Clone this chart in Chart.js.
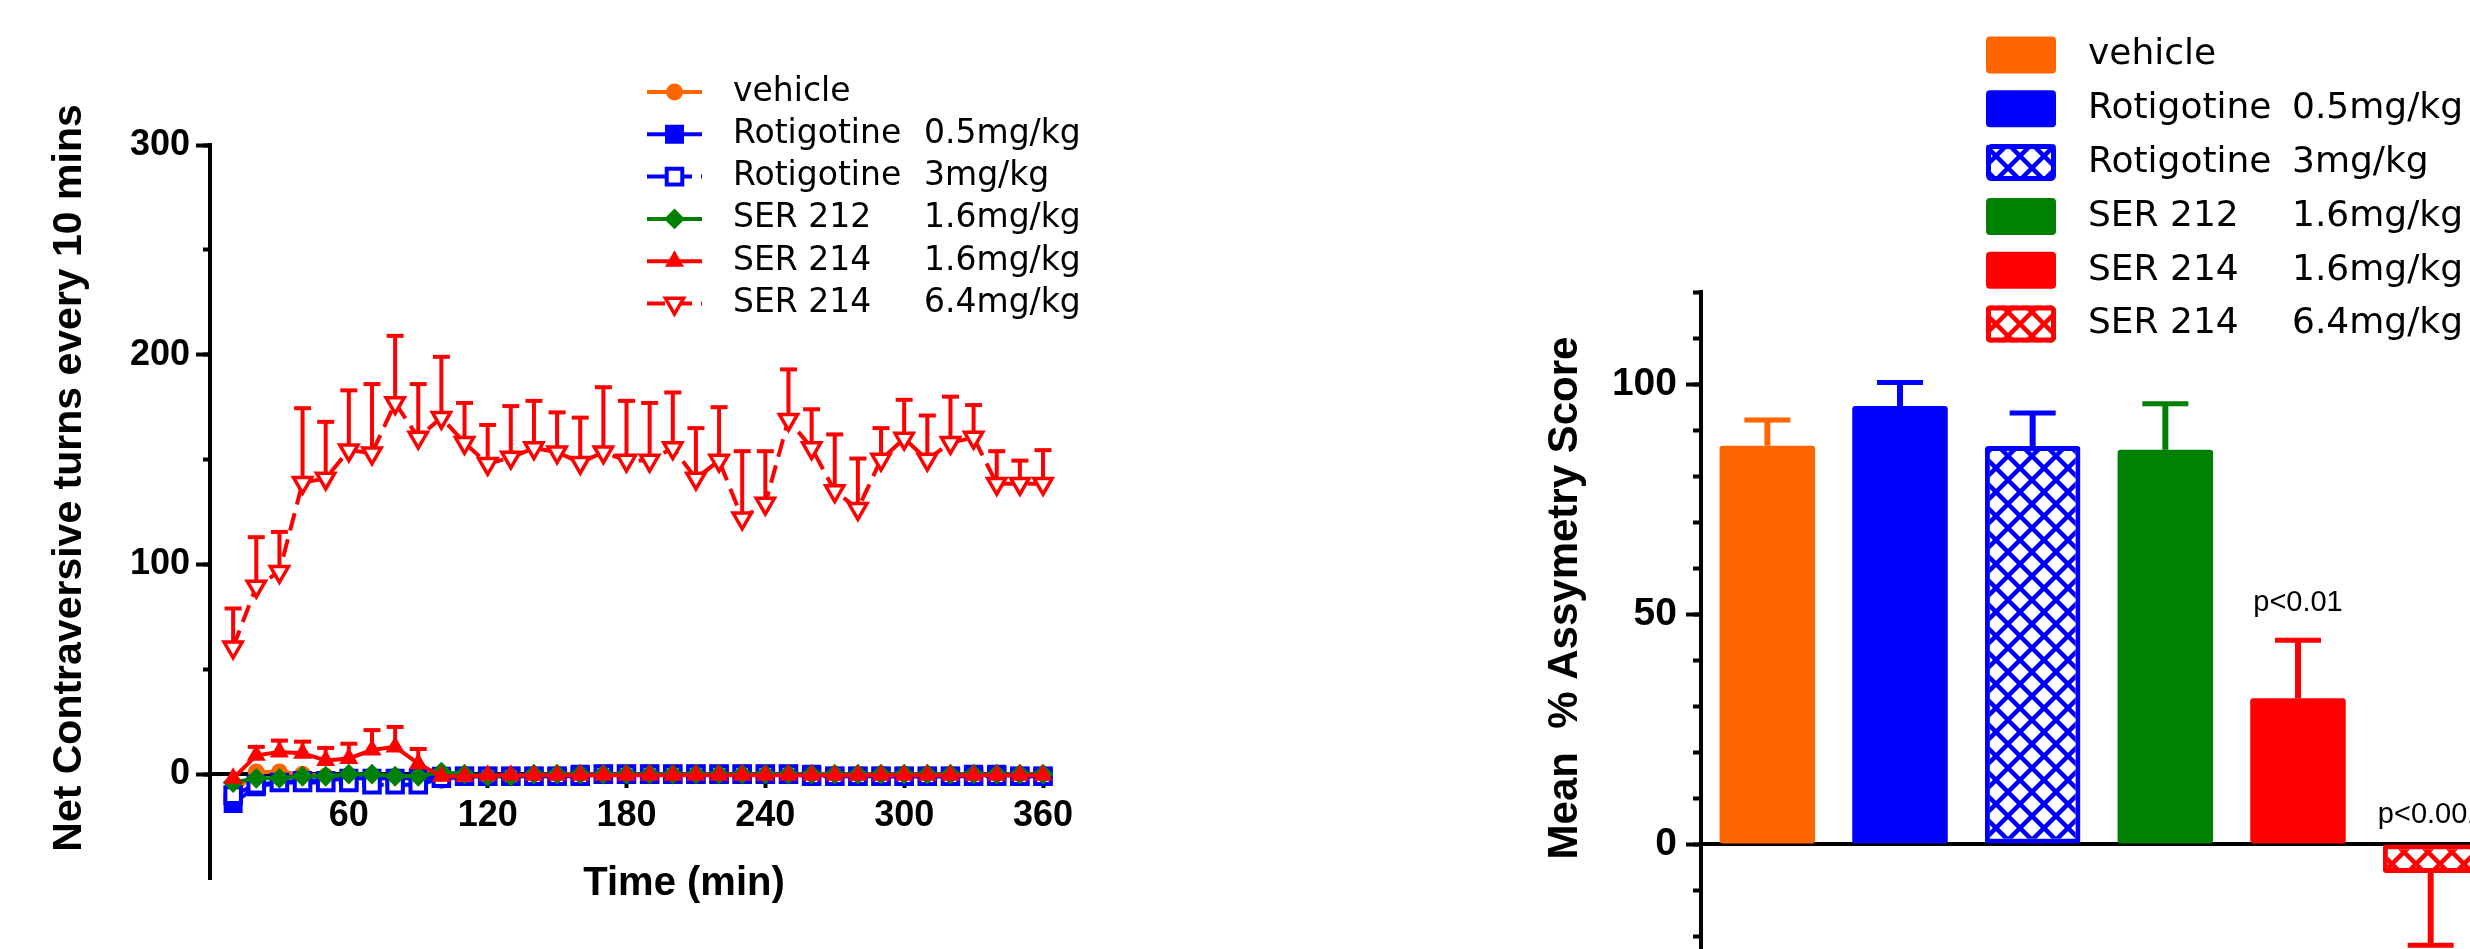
<!DOCTYPE html>
<html><head><meta charset="utf-8">
<script src="https://cdn.jsdelivr.net/npm/chart.js@4.4.1/dist/chart.umd.min.js"></script>
<style>
html,body{margin:0;padding:0;background:#fff;overflow:hidden;width:2470px;height:949px;}
canvas{position:absolute;top:0;}
#left{left:0;}
#right{left:1480px;}
</style></head><body>
<canvas id="left" width="1130" height="949"></canvas>
<canvas id="right" width="1030" height="1080"></canvas>
<script>
// ---------------- data ----------------
const times = [10,20,30,40,50,60,70,80,90,100,110,120,130,140,150,160,170,180,190,200,210,220,230,240,250,260,270,280,290,300,310,320,330,340,350,360];
const timeTicks = [60,120,180,240,300,360];
const turnTicks = [0,100,200,300];
const asymTicks = [0,50,100];

const seriesNames = ['vehicle','Rotigotine','Rotigotine','SER 212','SER 214','SER 214'];
const seriesDoses = ['','0.5mg/kg','3mg/kg','1.6mg/kg','1.6mg/kg','6.4mg/kg'];

const vehicleTurns   = [-9,1,1,0,-1,-1,-3,-1,-1,-3,-1,-1,-1,-1,0,0,0,0,0,0,0,0,0,0,0,0,0,0,0,0,0,0,0,0,-1,-1];
const rot05Turns     = [-14,-6,-4,-3,-3,-2,-2,-2,-2,-1,-1,-1,-1,-1,-1,0,0,0,0,0,0,0,0,0,0,0,-1,-1,-1,-1,-1,-1,0,0,-1,-1];
const rot3Turns      = [-10,-5,-4,-4,-4,-4,-5,-5,-5,-2,-1,-1,-1,-1,-1,-1,0,0,0,0,0,0,0,0,0,-1,-1,-1,-1,-1,-1,-1,-1,-1,-1,-1];
const ser212Turns    = [-4,-2,-2,-1,-1,0,0,-1,-1,1,0,-1,-1,0,0,0,0,0,0,0,0,0,0,0,0,0,0,0,0,0,0,0,0,0,0,0];
const ser214LowTurns = [-2,9,10.5,10,6.5,7.5,11.5,13,5,-1,-1,-0.5,-0.5,-0.5,-0.5,-0.5,-0.5,-0.5,-0.5,-0.5,-0.5,-0.5,-0.5,-0.5,-0.5,-0.5,-0.5,-0.5,-0.5,-0.5,-0.5,-0.5,-0.5,-0.5,-0.5,-0.5];
const ser214LowSem   = [0,4,5.5,5.5,6,7,9.5,9.5,7,0,0,0,0,0,0,0,0,0,0,0,0,0,0,0,0,0,0,0,0,0,0,0,0,0,0,0];
const ser214HighTurns= [60.5,89.5,96.5,139,141,154.5,153,177,160.5,170,158,148,151,155.5,153.5,148.5,153.5,149.5,149.5,155.5,141,149.5,122,129,169,155.5,135,126.5,150,160,150,158,160.5,138.5,138.5,138.5];
const ser214HighSem  = [18.5,23.5,19,35.5,27,28.5,33,32,25.5,29,19,18.5,24.5,22.5,19,21.5,31,28.5,27.5,26.5,24,25.5,32,25,24,18.5,27,24,15,18.5,21,22,15.5,15.5,11,16];

const barMeans = [86.6,95.2,86.5,85.7,31.7,-6.3];
const barSems  = [5.6,5.1,7.2,10.0,12.6,15.7];
const pLabels  = ['','','','','p<0.01','p<0.001'];

const turnsAxisTitle = 'Net Contraversive turns every 10 mins';
const timeAxisTitle  = 'Time (min)';
const asymAxisTitle  = 'Mean  % Assymetry Score';

// ---------------- styles ----------------
const seriesColors = ['#FF6600','#0000FF','#0000FF','#008000','#FF0000','#FF0000'];
const lineDash     = [[],[],[18,9],[],[],[18,9]];
const pointStyles  = ['circle','rect','rect','rectRot','triangle','triangle'];
const pointRot     = [0,0,0,0,0,180];
const pointRadii   = [7.5,12,11,9,9,10.5];
const pointFills   = ['#FF6600','#0000FF','#ffffff','#008000','#FF0000','#ffffff'];
const pointBorderW = [2,2,4,2,2,3.5];
const drawOrder    = [6,5,4,3,2,1];
const barHatched   = [false,false,true,false,false,true];

Chart.defaults.font.family = "'Liberation Sans', Arial, sans-serif";
Chart.defaults.color = '#000';
Chart.defaults.animation = false;

const LEGEND_FONT = "'Comic Sans MS', 'DejaVu Sans', sans-serif";

function hatch(color){
  const s = 24, c = document.createElement('canvas');
  c.width = s; c.height = s;
  const g = c.getContext('2d');
  g.fillStyle = '#fff'; g.fillRect(0,0,s,s);
  g.strokeStyle = color; g.lineWidth = 4.5;
  g.beginPath();
  for (let k = -1; k <= 1; k++) {
    g.moveTo(k*s - 3, -3); g.lineTo(k*s + s + 3, s + 3);
    g.moveTo(k*s + s + 3, -3); g.lineTo(k*s - 3, s + 3);
  }
  g.stroke();
  return g.createPattern(c, 'repeat');
}

// ---------------- plugins ----------------
const errorBars = {
  id: 'errorBars',
  beforeDatasetsDraw(chart, args, o) {
    const ctx = chart.ctx;
    chart.data.datasets.forEach((ds, di) => {
      if (!ds.sem) return;
      const meta = chart.getDatasetMeta(di);
      const ys = chart.scales[meta.yAxisID];
      ctx.save();
      ctx.setLineDash([]);
      ds.sem.forEach((e, i) => {
        if (!e) return;
        const el = meta.data[i];
        const raw = ds.data[i];
        const v = (raw !== null && typeof raw === 'object') ? raw.y : raw;
        const tip = v >= 0 ? v + e : v - e;
        const col = Array.isArray(ds.borderColor) ? ds.borderColor[i] : ds.borderColor;
        const x = el.x, y0 = ys.getPixelForValue(v), y1 = ys.getPixelForValue(tip);
        ctx.strokeStyle = col;
        ctx.lineWidth = o.width;
        ctx.beginPath(); ctx.moveTo(x, y0); ctx.lineTo(x, y1); ctx.stroke();
        ctx.lineWidth = o.capWidth;
        ctx.beginPath(); ctx.moveTo(x - o.capHalf, y1); ctx.lineTo(x + o.capHalf, y1); ctx.stroke();
      });
      ctx.restore();
    });
  }
};

const axisTitles = {
  id: 'axisTitles',
  afterDraw(chart, args, o) {
    const ctx = chart.ctx;
    (o.items || []).forEach(it => {
      ctx.save();
      ctx.font = it.font; ctx.fillStyle = '#000';
      ctx.textAlign = 'center'; ctx.textBaseline = 'middle';
      ctx.translate(it.x, it.y);
      if (it.rotate) ctx.rotate(it.rotate);
      ctx.fillText(it.text, 0, 0);
      ctx.restore();
    });
  }
};

const lineLegend = {
  id: 'lineLegend',
  afterDraw(chart, args, o) {
    const ctx = chart.ctx;
    chart.data.datasets.forEach((ds, i) => {
      const y = o.top + i * o.gap;
      ctx.save();
      ctx.strokeStyle = ds.borderColor; ctx.lineWidth = 4;
      ctx.setLineDash(ds.borderDash || []);
      ctx.beginPath(); ctx.moveTo(o.x0, y); ctx.lineTo(o.x1, y); ctx.stroke();
      ctx.setLineDash([]);
      ctx.fillStyle = ds.pointBackgroundColor; ctx.strokeStyle = ds.pointBorderColor;
      ctx.lineWidth = ds.pointBorderWidth;
      Chart.helpers.drawPoint(ctx, {pointStyle: ds.pointStyle, rotation: ds.pointRotation, radius: ds.pointRadius, borderWidth: ds.pointBorderWidth}, (o.x0 + o.x1) / 2, y);
      ctx.fillStyle = '#000'; ctx.font = o.font; ctx.textBaseline = 'middle'; ctx.textAlign = 'left';
      ctx.fillText(seriesNames[i], o.textX, y);
      if (seriesDoses[i]) ctx.fillText(seriesDoses[i], o.doseX, y);
      ctx.restore();
    });
  }
};

const barLegend = {
  id: 'barLegend',
  afterDraw(chart, args, o) {
    const ctx = chart.ctx;
    const ds = chart.data.datasets[0];
    seriesNames.forEach((name, i) => {
      const y = o.top + i * o.gap;
      ctx.save();
      ctx.beginPath();
      ctx.roundRect(o.boxX, y - o.boxH / 2, o.boxW, o.boxH, 4);
      ctx.fillStyle = ds.backgroundColor[i];
      ctx.fill();
      if (ds.borderWidth[i]) {
        ctx.beginPath();
        const b = ds.borderWidth[i] / 2;
        ctx.roundRect(o.boxX + b, y - o.boxH / 2 + b, o.boxW - 2 * b, o.boxH - 2 * b, 3);
        ctx.strokeStyle = ds.borderColor[i]; ctx.lineWidth = ds.borderWidth[i]; ctx.stroke();
      }
      ctx.fillStyle = '#000'; ctx.font = o.font; ctx.textBaseline = 'middle'; ctx.textAlign = 'left';
      ctx.fillText(name, o.textX, y);
      if (seriesDoses[i]) ctx.fillText(seriesDoses[i], o.doseX, y);
      ctx.restore();
    });
  }
};

const pValueLabels = {
  id: 'pValueLabels',
  afterDatasetsDraw(chart, args, o) {
    const ctx = chart.ctx;
    const meta = chart.getDatasetMeta(0);
    const ys = chart.scales.y;
    ctx.save();
    ctx.font = o.font; ctx.fillStyle = '#000'; ctx.textAlign = 'center'; ctx.textBaseline = 'middle';
    pLabels.forEach((t, i) => {
      if (!t) return;
      const v = barMeans[i];
      const y = v >= 0 ? ys.getPixelForValue(v + barSems[i]) - o.above : ys.getPixelForValue(0) - o.aboveZero;
      ctx.fillText(t, meta.data[i].x, y);
    });
    ctx.restore();
  }
};

// ---------------- left chart ----------------
const turnSeries = [vehicleTurns, rot05Turns, rot3Turns, ser212Turns, ser214LowTurns, ser214HighTurns];
const turnSems = [null, null, null, null, ser214LowSem, ser214HighSem];

const tickFontL = {family: "'Liberation Sans', Arial, sans-serif", size: 36, weight: 'bold'};

new Chart(document.getElementById('left'), {
  type: 'line',
  data: {
    datasets: turnSeries.map((vals, i) => ({
      label: (seriesNames[i] + ' ' + seriesDoses[i]).trim(),
      data: times.map((t, j) => ({x: t, y: vals[j]})),
      sem: turnSems[i],
      borderColor: seriesColors[i],
      backgroundColor: pointFills[i],
      borderWidth: 4,
      borderDash: lineDash[i],
      pointStyle: pointStyles[i],
      pointRotation: pointRot[i],
      pointRadius: pointRadii[i],
      pointBackgroundColor: pointFills[i],
      pointBorderColor: seriesColors[i],
      pointBorderWidth: pointBorderW[i],
      order: drawOrder[i],
      clip: false,
      tension: 0
    }))
  },
  options: {
    responsive: false,
    devicePixelRatio: 1,
    layout: {padding: {left: 0, top: 145, right: 87, bottom: 70}},
    plugins: {
      legend: {display: false},
      tooltip: {enabled: false},
      errorBars: {width: 4, capWidth: 4, capHalf: 8.5},
      lineLegend: {top: 92, gap: 42.3, x0: 647, x1: 702, textX: 733, doseX: 924, font: '33px ' + LEGEND_FONT},
      axisTitles: {items: [
        {text: turnsAxisTitle, x: 70, y: 478, rotate: -Math.PI / 2, font: "bold 41px 'Liberation Sans', Arial, sans-serif"},
        {text: timeAxisTitle, x: 684, y: 884, font: "bold 40px 'Liberation Sans', Arial, sans-serif"}
      ]}
    },
    scales: {
      x: {
        type: 'linear', axis: 'x', position: {y: 0}, min: 0, max: 360,
        ticks: {stepSize: 60, font: tickFontL, padding: 8, maxRotation: 0, autoSkip: false,
          callback: v => timeTicks.includes(v) ? String(v) : ''},
        grid: {drawOnChartArea: false, drawTicks: true, tickLength: 12, tickWidth: 4,
          tickColor: c => (c.tick && timeTicks.includes(c.tick.value)) ? '#000' : 'rgba(0,0,0,0)'},
        border: {display: true, color: '#000', width: 4}
      },
      y: {
        type: 'linear', position: 'left', min: -50, max: 300,
        afterFit: s => { s.width = 210; },
        ticks: {stepSize: 100, font: tickFontL, padding: 6, includeBounds: false,
          callback: v => turnTicks.includes(v) ? String(v) : ''},
        grid: {drawOnChartArea: false, drawTicks: true, tickLength: 14, tickWidth: 4, tickColor: '#000'},
        border: {display: true, color: '#000', width: 4}
      },
      yMinor: {
        type: 'linear', axis: 'y', position: {x: 0}, min: -50, max: 300,
        afterFit: s => { s.width = 0; },
        ticks: {display: false, stepSize: 50, includeBounds: false},
        grid: {drawOnChartArea: false, drawTicks: true, tickLength: 7, tickWidth: 4,
          tickColor: c => (c.tick && c.tick.value > -50) ? '#000' : 'rgba(0,0,0,0)'},
        border: {display: false}
      }
    }
  },
  plugins: [errorBars, lineLegend, axisTitles]
});

// ---------------- right chart ----------------
const barFills = seriesColors.map((c, i) => barHatched[i] ? hatch(c) : c);
const tickFontR = {family: "'Liberation Sans', Arial, sans-serif", size: 39, weight: 'bold'};

new Chart(document.getElementById('right'), {
  type: 'bar',
  data: {
    labels: seriesNames.map((n, i) => (n + ' ' + seriesDoses[i]).trim()),
    datasets: [{
      data: barMeans,
      sem: barSems,
      backgroundColor: barFills,
      borderColor: seriesColors,
      borderWidth: barHatched.map(h => h ? 5 : 0),
      borderRadius: 3,
      borderSkipped: false,
      categoryPercentage: 1,
      barPercentage: 0.72
    }]
  },
  options: {
    responsive: false,
    devicePixelRatio: 1,
    layout: {padding: {left: 0, top: 292, right: 13, bottom: 52}},
    plugins: {
      legend: {display: false},
      tooltip: {enabled: false},
      errorBars: {width: 6, capWidth: 5, capHalf: 23},
      barLegend: {top: 55, gap: 53.8, boxX: 506, boxW: 70, boxH: 37, textX: 608, doseX: 812, font: '36px ' + LEGEND_FONT},
      pValueLabels: {font: "29px 'Liberation Sans', Arial, sans-serif", above: 37, aboveZero: 29},
      axisTitles: {items: [
        {text: asymAxisTitle, x: 85, y: 598, rotate: -Math.PI / 2, font: "bold 42px 'Liberation Sans', Arial, sans-serif"}
      ]}
    },
    scales: {
      x: {
        type: 'category', position: {y: 0}, offset: true,
        ticks: {display: false},
        grid: {display: true, drawOnChartArea: false, drawTicks: false},
        border: {display: true, color: '#000', width: 4}
      },
      y: {
        type: 'linear', position: 'left', min: -40, max: 120,
        afterFit: s => { s.width = 221; },
        ticks: {stepSize: 50, font: tickFontR, padding: 9, includeBounds: false,
          callback: v => asymTicks.includes(v) ? String(v) : ''},
        grid: {drawOnChartArea: false, drawTicks: true, tickLength: 15, tickWidth: 4, tickColor: '#000'},
        border: {display: true, color: '#000', width: 4}
      },
      yMinor: {
        type: 'linear', axis: 'y', position: {x: -0.5}, min: -40, max: 120,
        afterFit: s => { s.width = 0; },
        ticks: {display: false, stepSize: 10},
        grid: {drawOnChartArea: false, drawTicks: true, tickLength: 8, tickWidth: 4, tickColor: '#000'},
        border: {display: false}
      }
    }
  },
  plugins: [errorBars, pValueLabels, barLegend, axisTitles]
});
</script>
</body></html>
